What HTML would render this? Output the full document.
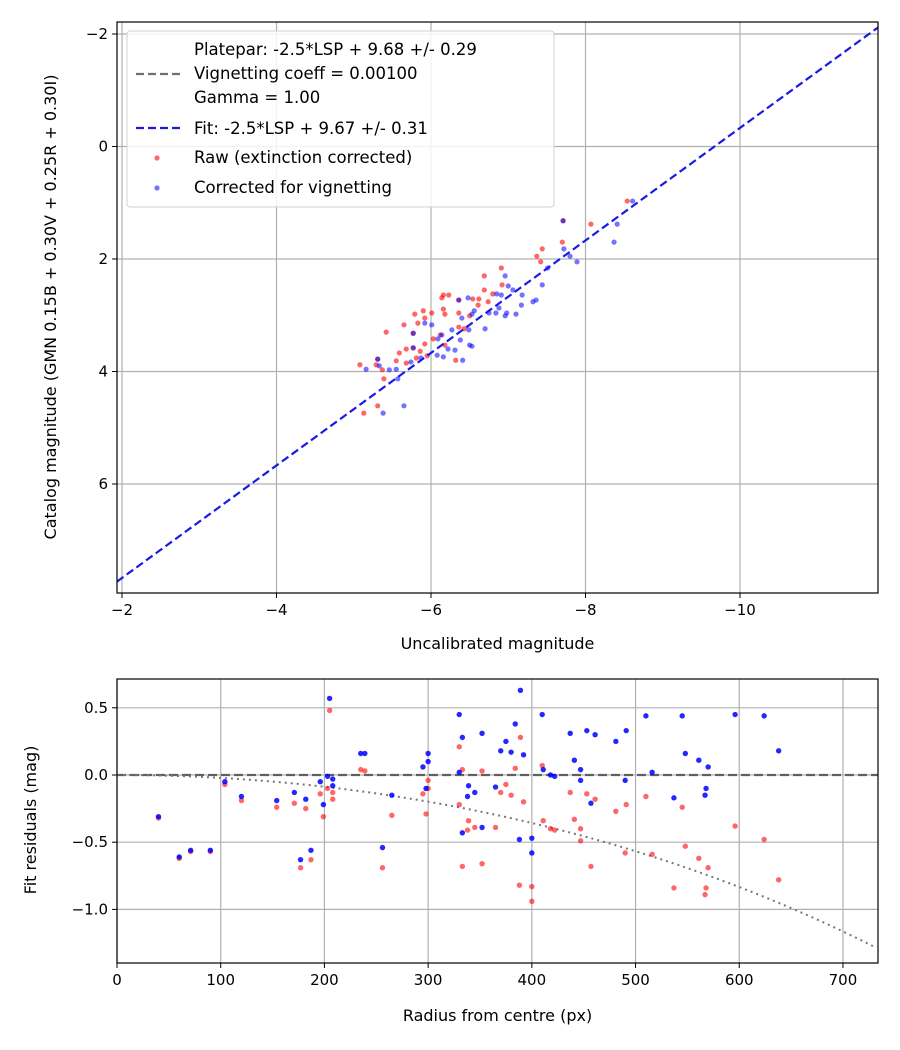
<!DOCTYPE html>
<html><head><meta charset="utf-8">
<style>
html,body{margin:0;padding:0;background:#fff;}
svg{display:block;font-family:"DejaVu Sans","Liberation Sans",sans-serif;}
</style></head>
<body>
<svg id="chart" width="900" height="1050" viewBox="0 0 900 1050" xmlns="http://www.w3.org/2000/svg">
<rect width="900" height="1050" fill="#fff"/>
<g id="top"></g>
<g id="bot"></g>
</svg>
<script>
// ---- top plot data ----
const rawX = [-8.54,-8.07,-7.70,-7.44,-7.37,-7.42,-6.91,-6.69,-6.92,-6.69,-6.80,-6.62,-6.54,-6.74,-6.61,-6.50,-6.23,-6.16,-6.14,-6.16,-6.18,-6.36,-5.90,-6.01,-5.79,-5.92,-5.83,-5.65,-5.77,-5.42,-6.36,-6.43,-6.12,-6.03,-6.18,-5.92,-5.77,-5.68,-5.59,-5.86,-5.95,-5.81,-5.55,-6.32,-5.08,-5.29,-5.37,-5.39,-5.31,-5.13,-5.68,-7.71,-6.36,-5.31];
const rawY = [0.97,1.38,1.70,1.82,1.95,2.05,2.16,2.30,2.46,2.55,2.62,2.71,2.71,2.76,2.82,3.01,2.64,2.64,2.69,2.89,2.98,2.96,2.92,2.96,2.98,3.05,3.14,3.17,3.32,3.30,3.21,3.24,3.35,3.42,3.53,3.51,3.58,3.60,3.67,3.64,3.72,3.76,3.81,3.80,3.88,3.88,3.97,4.13,4.61,4.74,3.85,1.32,2.73,3.78];
const corrX = [-8.61,-8.41,-8.37,-7.71,-7.72,-7.80,-7.89,-7.51,-7.44,-6.96,-7.00,-7.06,-7.18,-7.36,-7.32,-7.17,-7.10,-6.98,-6.96,-6.84,-6.75,-6.88,-6.91,-6.85,-6.48,-6.36,-6.56,-6.53,-6.40,-6.70,-6.49,-6.27,-6.38,-6.14,-6.09,-6.50,-6.53,-6.31,-6.22,-6.08,-6.16,-6.01,-5.92,-5.77,-5.77,-6.41,-5.87,-5.74,-5.31,-5.33,-5.16,-5.46,-5.55,-5.57,-5.65,-5.38];
const corrY = [0.97,1.38,1.70,1.32,1.82,1.95,2.05,2.16,2.46,2.30,2.48,2.55,2.64,2.73,2.76,2.82,2.98,2.96,3.01,2.96,2.96,2.87,2.64,2.62,2.69,2.73,2.92,2.98,3.05,3.24,3.26,3.26,3.44,3.35,3.42,3.53,3.55,3.62,3.60,3.71,3.74,3.17,3.14,3.32,3.58,3.80,3.76,3.83,3.78,3.90,3.96,3.97,3.96,4.13,4.61,4.74];
const fitOffset = 9.67;
const topXTicks = [-2,-4,-6,-8,-10];
const topYTicks = [-2,0,2,4,6];

// ---- residual plot data ----
const radius = [40,60,71,90,104,120,154,171,182,177,187,196,199,203,208,208,205,235,239,265,256,295,300,300,298,330,333,330,339,338,345,333,
389,410,384,352,375,370,380,392,437,453,461,481,491,510,545,596,624,638,548,561,570,441,447,411,418,422,447,490,516,365,568,567,537,457,352,388,400,400];
const resRaw = [-0.32,-0.62,-0.57,-0.57,-0.07,-0.19,-0.24,-0.21,-0.25,-0.69,-0.63,-0.14,-0.31,-0.10,-0.13,-0.18,0.48,0.04,0.03,-0.30,-0.69,-0.14,-0.04,-0.10,-0.29,0.21,0.04,-0.22,-0.34,-0.41,-0.39,-0.68,
0.28,0.07,0.05,0.03,-0.07,-0.13,-0.15,-0.20,-0.13,-0.14,-0.18,-0.27,-0.22,-0.16,-0.24,-0.38,-0.48,-0.78,-0.53,-0.62,-0.69,-0.33,-0.40,-0.34,-0.40,-0.41,-0.49,-0.58,-0.59,-0.39,-0.84,-0.89,-0.84,-0.68,-0.66,-0.82,-0.83,-0.94];
const resCorr = [-0.31,-0.61,-0.56,-0.56,-0.05,-0.16,-0.19,-0.13,-0.18,-0.63,-0.56,-0.05,-0.22,-0.01,-0.03,-0.08,0.57,0.16,0.16,-0.15,-0.54,0.06,0.16,0.10,-0.10,0.45,0.28,0.02,-0.08,-0.16,-0.13,-0.43,
0.63,0.45,0.38,0.31,0.25,0.18,0.17,0.15,0.31,0.33,0.30,0.25,0.33,0.44,0.44,0.45,0.44,0.18,0.16,0.11,0.06,0.11,0.04,0.04,0.00,-0.01,-0.04,-0.04,0.02,-0.09,-0.10,-0.15,-0.17,-0.21,-0.39,-0.48,-0.47,-0.58];
const vignCoeff = 0.001;
const botXTicks = [0,100,200,300,400,500,600,700];
const botYTicks = [0.5,0.0,-0.5,-1.0];

const NS = "http://www.w3.org/2000/svg";
function mk(parent, tag, attrs, text){
  const e = document.createElementNS(NS, tag);
  for (const k in attrs) e.setAttribute(k, attrs[k]);
  if (text !== undefined) e.textContent = text;
  parent.appendChild(e);
  return e;
}
function fmt(v){ return v < 0 ? "\u2212" + Math.abs(v) : "" + v; }
function fmt1(v){ const s = Math.abs(v).toFixed(1); return v < 0 ? "\u2212" + s : s; }

// ===== TOP =====
const T = document.getElementById('top');
const tL=117,tR=878,tT=22,tB=593;
const tx = v => 122 + (-2 - v) * 77.25;
const ty = v => 34 + (v + 2) * 56.25;
let e;
topXTicks.forEach(v=>{
  e = mk(T,'line',{x1:tx(v),x2:tx(v),y1:tT,y2:tB,stroke:'#b0b0b0','stroke-width':1.2});
   
  e = mk(T,'line',{x1:tx(v),x2:tx(v),y1:tB,y2:tB+5,stroke:'#000','stroke-width':1});
   
  e = mk(T,'text',{x:tx(v),y:tB+22,'font-size':15,'text-anchor':'middle'},fmt(v));
   
});
topYTicks.forEach(v=>{
  e = mk(T,'line',{x1:tL,x2:tR,y1:ty(v),y2:ty(v),stroke:'#b0b0b0','stroke-width':1.2});
   
  e = mk(T,'line',{x1:tL-5,x2:tL,y1:ty(v),y2:ty(v),stroke:'#000','stroke-width':1});
   
  e = mk(T,'text',{x:tL-9,y:ty(v)+5,'font-size':15,'text-anchor':'end'},fmt(v));
   
});
const clipT = mk(T,'clipPath',{id:'ct'}); mk(clipT,'rect',{x:tL,y:tT,width:tR-tL,height:tB-tT});
const tg = mk(T,'g',{'clip-path':'url(#ct)'});
rawX.forEach((x,i)=>{
  e = mk(tg,'circle',{cx:tx(x),cy:ty(rawY[i]),r:2.6,fill:'rgba(255,0,0,0.6)'});
   
});
corrX.forEach((x,i)=>{
  e = mk(tg,'circle',{cx:tx(x),cy:ty(corrY[i]),r:2.6,fill:'rgba(0,0,255,0.55)'});
   
});
const xa=-1.935, xb=-11.8;
e = mk(tg,'line',{x1:tx(xa),y1:ty(xa+fitOffset),x2:tx(xb),y2:ty(xb+fitOffset),stroke:'#1a1ae6','stroke-width':2.2,'stroke-dasharray':'8,4'});
 
e = mk(T,'rect',{x:tL,y:tT,width:tR-tL,height:tB-tT,fill:'none',stroke:'#000','stroke-width':1.2});
 
e = mk(T,'text',{x:(tL+tR)/2,y:649,'font-size':16,'text-anchor':'middle'},'Uncalibrated magnitude');
 
e = mk(T,'text',{x:0,y:0,'font-size':16,'text-anchor':'middle',transform:'translate(56,307) rotate(-90)'},'Catalog magnitude (GMN 0.15B + 0.30V + 0.25R + 0.30I)');
 
const lg = mk(T,'g',{});
 
mk(lg,'rect',{x:127,y:31,width:427,height:176,rx:3,fill:'rgba(255,255,255,0.85)',stroke:'#d0d0d0','stroke-width':1});
e = mk(lg,'line',{x1:136,x2:180,y1:74,y2:74,stroke:'#707070','stroke-width':2.2,'stroke-dasharray':'8,4'});
 
[['Platepar: -2.5*LSP + 9.68 +/- 0.29',55],['Vignetting coeff = 0.00100',79],['Gamma = 1.00',103],['Fit: -2.5*LSP + 9.67 +/- 0.31',134],['Raw (extinction corrected)',163],['Corrected for vignetting',193]].forEach(a=>{
  e = mk(lg,'text',{x:194,y:a[1],'font-size':16.5},a[0]);
   
});
e = mk(lg,'line',{x1:136,x2:180,y1:128,y2:128,stroke:'#1a1ae6','stroke-width':2.2,'stroke-dasharray':'8,4'});
 
e = mk(lg,'circle',{cx:157,cy:158,r:2.6,fill:'rgba(255,0,0,0.6)'});
 
e = mk(lg,'circle',{cx:157,cy:188,r:2.6,fill:'rgba(0,0,255,0.55)'});
 

// ===== BOTTOM =====
const B = document.getElementById('bot');
const bL=117,bR=878,bT=679,bB=963;
const bx = v => 117 + v * 1.0371;
const by = v => 775 - v * 134.4;
botXTicks.forEach(v=>{
  e = mk(B,'line',{x1:bx(v),x2:bx(v),y1:bT,y2:bB,stroke:'#b0b0b0','stroke-width':1.2});
   
  e = mk(B,'line',{x1:bx(v),x2:bx(v),y1:bB,y2:bB+5,stroke:'#000','stroke-width':1});
   
  e = mk(B,'text',{x:bx(v),y:bB+22,'font-size':15,'text-anchor':'middle'},''+v);
   
});
botYTicks.forEach(v=>{
  e = mk(B,'line',{x1:bL,x2:bR,y1:by(v),y2:by(v),stroke:'#b0b0b0','stroke-width':1.2});
   
  e = mk(B,'line',{x1:bL-5,x2:bL,y1:by(v),y2:by(v),stroke:'#000','stroke-width':1});
   
  e = mk(B,'text',{x:bL-9,y:by(v)+5,'font-size':15,'text-anchor':'end'},fmt1(v));
   
});
const clipB = mk(B,'clipPath',{id:'cb'}); mk(clipB,'rect',{x:bL,y:bT,width:bR-bL,height:bB-bT});
const bg = mk(B,'g',{'clip-path':'url(#cb)'});
e = mk(bg,'line',{x1:bL,x2:bR,y1:by(0),y2:by(0),stroke:'#555','stroke-width':2.2,'stroke-dasharray':'9,4',opacity:0.9});
 
let pts=[];
for(let r=0;r<=734;r+=4){ const c=Math.cos(vignCoeff*r); pts.push(bx(r)+','+by(2.5*Math.log10(Math.pow(c,4)))); }
e = mk(bg,'polyline',{points:pts.join(' '),fill:'none',stroke:'#777','stroke-width':2,'stroke-dasharray':'2,4'});
 
radius.forEach((r,i)=>{
  e = mk(bg,'circle',{cx:bx(r),cy:by(resRaw[i]),r:2.7,fill:'rgba(255,0,0,0.6)'});
   
});
radius.forEach((r,i)=>{
  e = mk(bg,'circle',{cx:bx(r),cy:by(resCorr[i]),r:2.7,fill:'rgba(0,0,255,0.85)'});
   
});
e = mk(B,'rect',{x:bL,y:bT,width:bR-bL,height:bB-bT,fill:'none',stroke:'#000','stroke-width':1.2});
 
e = mk(B,'text',{x:(bL+bR)/2,y:1021,'font-size':16,'text-anchor':'middle'},'Radius from centre (px)');
 
e = mk(B,'text',{x:0,y:0,'font-size':16,'text-anchor':'middle',transform:'translate(36,820) rotate(-90)'},'Fit residuals (mag)');
 
</script>
</body></html>
